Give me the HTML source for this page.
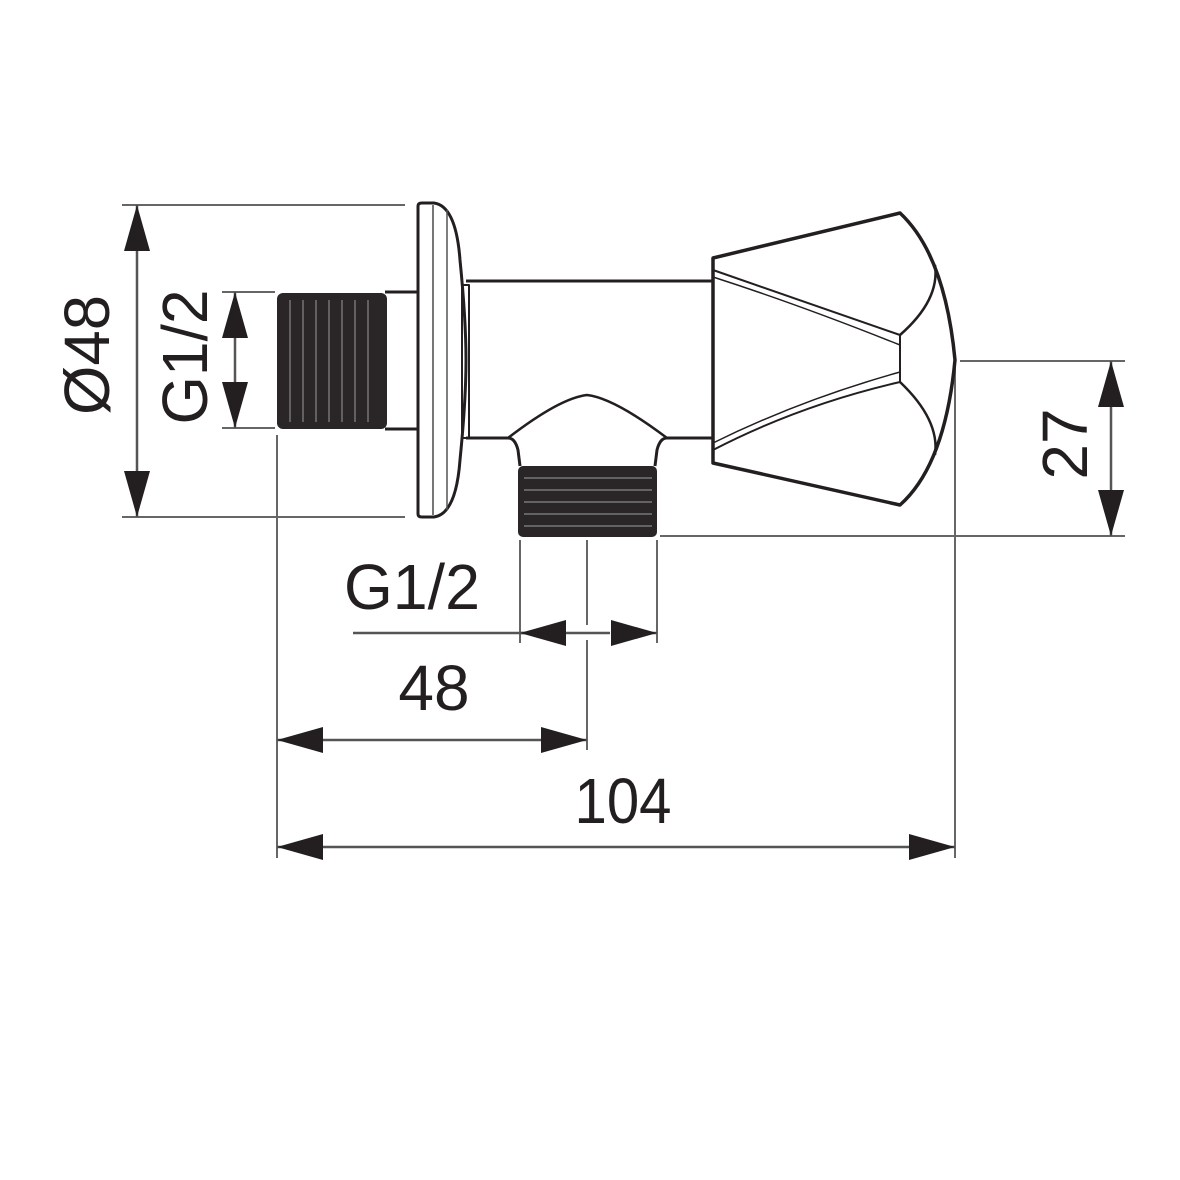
<!DOCTYPE html>
<html><head><meta charset="utf-8"><style>
html,body{margin:0;padding:0;background:#fff;}
svg{display:block;}
text{font-family:"Liberation Sans",Arial,sans-serif;fill:#231f20;}
</style></head><body>
<svg width="1180" height="1180" viewBox="0 0 1180 1180" xmlns="http://www.w3.org/2000/svg">
<rect width="1180" height="1180" fill="#fff"/>
<defs>
<marker id="a" viewBox="0 0 46 26" refX="46" refY="13" markerWidth="46" markerHeight="26" markerUnits="userSpaceOnUse" orient="auto-start-reverse">
<path d="M0,0 L46,13 L0,26 Z" fill="#231f20"/>
</marker>
</defs>
<!-- extension lines (gray) -->
<g stroke="#666" stroke-width="2" fill="none">
<line x1="122" y1="205" x2="405" y2="205"/>
<line x1="122" y1="517" x2="405" y2="517"/>
<line x1="222" y1="292" x2="275" y2="292"/>
<line x1="222" y1="428" x2="275" y2="428"/>
<line x1="277" y1="435" x2="277" y2="858"/>
<line x1="955" y1="360" x2="955" y2="858"/>
<line x1="960" y1="361" x2="1125" y2="361"/>
<line x1="660" y1="536" x2="1125" y2="536"/>
<line x1="520" y1="540" x2="520" y2="643"/>
<line x1="657" y1="540" x2="657" y2="643"/>
<line x1="587" y1="540" x2="587" y2="625"/>
<line x1="587" y1="640" x2="587" y2="750"/>
</g>
<!-- dimension lines -->
<g stroke="#555" stroke-width="2.5" fill="none">
<line x1="137" y1="205" x2="137" y2="517" marker-start="url(#a)" marker-end="url(#a)"/>
<line x1="235" y1="292" x2="235" y2="428" marker-start="url(#a)" marker-end="url(#a)"/>
<line x1="1111" y1="361" x2="1111" y2="536" marker-start="url(#a)" marker-end="url(#a)"/>
<line x1="277" y1="740" x2="587" y2="740" marker-start="url(#a)" marker-end="url(#a)"/>
<line x1="277" y1="847" x2="955" y2="847" marker-start="url(#a)" marker-end="url(#a)"/>
<line x1="353" y1="633" x2="610" y2="633"/>
<line x1="566" y1="633" x2="520" y2="633" marker-end="url(#a)"/>
<line x1="611" y1="633" x2="657" y2="633" marker-end="url(#a)"/>
</g>
<!-- labels -->
<text x="412" y="609" font-size="64" text-anchor="middle" textLength="136" lengthAdjust="spacingAndGlyphs">G1/2</text>
<text x="434" y="710" font-size="64" text-anchor="middle">48</text>
<text x="623" y="823" font-size="64" text-anchor="middle" textLength="97" lengthAdjust="spacingAndGlyphs">104</text>
<text transform="translate(109,355) rotate(-90)" font-size="64" text-anchor="middle" textLength="120" lengthAdjust="spacingAndGlyphs">Ø48</text>
<text transform="translate(207,357) rotate(-90)" font-size="64" text-anchor="middle" textLength="135" lengthAdjust="spacingAndGlyphs">G1/2</text>
<text transform="translate(1087,444) rotate(-90)" font-size="64" text-anchor="middle">27</text>
<!-- body -->
<g stroke="#231f20" stroke-width="3" fill="none" stroke-linejoin="round">
<!-- neck to left thread -->
<line x1="385" y1="292" x2="418" y2="292"/>
<line x1="385" y1="429" x2="418" y2="429"/>
<!-- flange -->
<path d="M418,206 Q418,203 422,203 L434,203 Q456,206 460,260 Q466,320 466,360 Q466,400 460,460 Q456,514 434,517 L422,517 Q418,517 418,514 Z" fill="#fff"/>
<line x1="433" y1="205" x2="433" y2="515" stroke="#777" stroke-width="2"/>
<line x1="447" y1="210" x2="447" y2="510" stroke="#555" stroke-width="1.5"/>
<!-- collar -->
<rect x="462" y="285" width="7" height="153" stroke-width="2"/>
<!-- pipe -->
<line x1="466" y1="281" x2="713" y2="281"/>
<path d="M466,438 L508,438 Q515,438 518,450 L520,466"/>
<path d="M713,438 L667,438 Q660,438 657,450 L655,466"/>
<path d="M508,438 Q560,398 587,395 Q614,398 667,438" stroke-width="2.5"/>
<!-- handle -->
<path d="M713,258 L900,213 Q945,255 955,360 Q945,465 900,505 L713,463 Z" stroke-width="3.5" fill="#fff"/>
<path d="M713,270 Q800,300 900,335 L900,382 Q800,405 713,450" stroke-width="2"/>
<path d="M713,277 Q800,305 900,345" stroke-width="1.5"/>
<path d="M713,443 Q800,400 900,372" stroke-width="1.5"/>
<path d="M900,335 Q940,300 935,265" stroke-width="2.5"/>
<path d="M900,382 Q940,420 935,455" stroke-width="2.5"/>
</g>
<!-- left thread -->
<rect x="277" y="293" width="110" height="136" rx="6" fill="#2a2627"/>
<g stroke="#888" stroke-width="1.2">
<line x1="290" y1="300" x2="290" y2="422"/><line x1="303" y1="300" x2="303" y2="422"/>
<line x1="316" y1="300" x2="316" y2="422"/><line x1="329" y1="300" x2="329" y2="422"/>
<line x1="342" y1="300" x2="342" y2="422"/><line x1="355" y1="300" x2="355" y2="422"/>
<line x1="368" y1="300" x2="368" y2="422"/>
</g>
<!-- bottom thread -->
<rect x="518" y="466" width="139" height="71" rx="5" fill="#2a2627"/>
<g stroke="#888" stroke-width="1.2">
<line x1="524" y1="478" x2="652" y2="478"/><line x1="524" y1="490" x2="652" y2="490"/>
<line x1="524" y1="502" x2="652" y2="502"/><line x1="524" y1="514" x2="652" y2="514"/>
<line x1="524" y1="526" x2="652" y2="526"/>
</g>
</svg>
</body></html>
